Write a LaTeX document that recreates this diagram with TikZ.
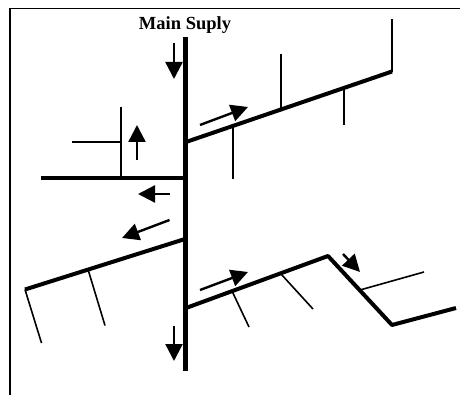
\documentclass[tikz,border=0pt]{standalone}
\usepackage{fontspec}
\setmainfont{Liberation Serif}
\usetikzlibrary{arrows.meta}
\tikzset{
  frameline/.style={line width=1.5pt,black},
  mainpipe/.style={line width=5pt,black},
  branchpipe/.style={line width=4pt,black},
  twig/.style={line width=1.6pt,black},
  flow/.style={line width=2.4pt,black,-{Triangle[length=17pt,width=17pt]}}
}
\begin{document}
\begin{tikzpicture}[x=1pt,y=-1pt]
\useasboundingbox (0,0) rectangle (460,395);
\coordinate (tl) at (10,8.3);
\coordinate (tr) at (460,8.3);
\coordinate (bl) at (10,395);
\draw[frameline] (bl) -- (tl) -- (tr);
\node[font=\bfseries\fontsize{18.5}{20}\selectfont,inner sep=0pt] (title) at (185,25) {Main Suply};
% main
\coordinate (m1) at (185,37);
\coordinate (m2) at (185,371);
\draw[mainpipe] (m1) -- (m2);
% upper right
\coordinate (ur0) at (186,142);
\coordinate (ur1) at (392,71.5);
\coordinate (ur2) at (392,19);
\draw[branchpipe] (ur0) -- (ur1);
\draw[twig] (392,72.5) -- (ur2);
\coordinate (a1) at (233,127); \coordinate (a2) at (233,179);
\coordinate (b1) at (281,109); \coordinate (b2) at (281,54);
\coordinate (c1) at (344,87); \coordinate (c2) at (344,125);
\draw[twig] (a1) -- (a2);
\draw[twig] (b1) -- (b2);
\draw[twig] (c1) -- (c2);
% left
\coordinate (l0) at (185,178);
\coordinate (l1) at (41,178);
\draw[branchpipe] (l0) -- (l1);
\coordinate (d1) at (121,178); \coordinate (d2) at (121,107);
\coordinate (d3) at (121,142); \coordinate (d4) at (72,142);
\draw[twig] (d1) -- (d2);
\draw[twig] (d3) -- (d4);
% lower left
\coordinate (ll0) at (185,239);
\coordinate (ll1) at (25,289.5);
\draw[branchpipe] (ll0) -- (ll1);
\coordinate (e1) at (25,289.5); \coordinate (e2) at (41.5,343);
\coordinate (f1) at (88.5,271); \coordinate (f2) at (105,325.5);
\draw[twig] (e1) -- (e2);
\draw[twig] (f1) -- (f2);
% lower right
\coordinate (lr0) at (186,308);
\coordinate (lr1) at (328,256);
\coordinate (lr2) at (392,325);
\coordinate (lr3) at (456,308);
\draw[branchpipe,line join=round] (lr0) -- (lr1) -- (lr2) -- (lr3);
\coordinate (g1) at (232,291); \coordinate (g2) at (249,327);
\coordinate (h1) at (281,274); \coordinate (h2) at (313,309);
\coordinate (i1) at (360,290); \coordinate (i2) at (424,272);
\draw[twig] (g1) -- (g2);
\draw[twig] (h1) -- (h2);
\draw[twig] (i1) -- (i2);
% arrows
\coordinate (p1s) at (174,43); \coordinate (p1e) at (174,79);
\coordinate (p2s) at (137,160); \coordinate (p2e) at (137,125);
\coordinate (p3s) at (170,194); \coordinate (p3e) at (138,194);
\coordinate (p4s) at (169.5,220); \coordinate (p4e) at (122,238);
\coordinate (p5s) at (174,326); \coordinate (p5e) at (174,361);
\coordinate (p6s) at (200,125); \coordinate (p6e) at (248,107);
\coordinate (p7s) at (200,290); \coordinate (p7e) at (248,272);
\coordinate (p8s) at (343,254); \coordinate (p8e) at (360,272);
\draw[flow] (p1s) -- (p1e);
\draw[flow] (p2s) -- (p2e);
\draw[flow] (p3s) -- (p3e);
\draw[flow] (p4s) -- (p4e);
\draw[flow] (p5s) -- (p5e);
\draw[flow] (p6s) -- (p6e);
\draw[flow] (p7s) -- (p7e);
\draw[flow] (p8s) -- (p8e);
\end{tikzpicture}
\end{document}
